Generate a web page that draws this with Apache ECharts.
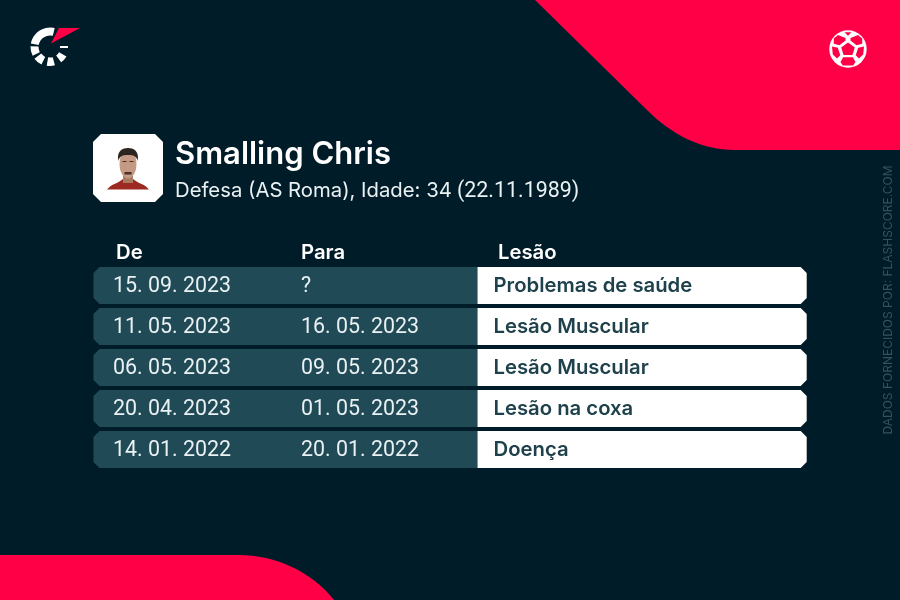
<!DOCTYPE html>
<html>
<head>
<meta charset="utf-8">
<style>html,body{margin:0;padding:0;background:#001c29}#main{width:900px;height:600px}</style>
<script src="https://cdn.jsdelivr.net/npm/echarts@6/dist/echarts.min.js"></script>
</head>
<body>
<div id="main"></div>
<script>
var playerName = 'Smalling Chris';
var playerInfo = 'Defesa (AS Roma), Idade: 34';
var birthDate = '(22.11.1989)';
var columnTitles = ['De', 'Para', 'Lesão'];
var dateFrom = ['15. 09. 2023', '11. 05. 2023', '06. 05. 2023', '20. 04. 2023', '14. 01. 2022'];
var dateTo = ['?', '16. 05. 2023', '09. 05. 2023', '01. 05. 2023', '20. 01. 2022'];
var injuries = ['Problemas de saúde', 'Lesão Muscular', 'Lesão Muscular', 'Lesão na coxa', 'Doença'];
var sourceText = 'DADOS FORNECIDOS POR: FLASHSCORE.COM';

var FONT = 'Inter, "Noto Sans", sans-serif';
var DATE_FONT = '400 21.4px Roboto, Inter, sans-serif'; // digits all the same width, like the original
var RED = '#ff0046';
var BG = '#001c29';
var TEAL = '#204a56';
var WHITE = '#ffffff';

var chart = echarts.init(document.getElementById('main'), null, { renderer: 'canvas' });

// one table row: teal part, white part and its three texts
function renderRow(params, api) {
  var i = api.value(1);
  var cy = api.coord([0, i])[1];
  var left = params.coordSys.x + 0.5;
  var right = left + params.coordSys.width - 0.8;
  var split = 477.5;
  var top = cy - 18.6;
  var bot = cy + 18.4;
  var c = 6;
  return {
    type: 'group',
    children: [
      poly([[left + c, top], [split, top], [split, bot], [left + c, bot], [left, bot - c], [left, top + c]], TEAL),
      poly([[split, top], [right - c, top], [right, top + c], [right, bot - c], [right - c, bot], [split, bot]], WHITE),
      { type: 'text', style: { x: 113, y: cy + 1.5, text: dateFrom[i], fill: '#eaf1f3', font: DATE_FONT, verticalAlign: 'middle' } },
      { type: 'text', style: { x: 301, y: cy + 1.5, text: dateTo[i], fill: '#eaf1f3', font: DATE_FONT, verticalAlign: 'middle' } },
      { type: 'text', style: { x: 493.5, y: cy, text: injuries[i], fill: '#1f414c', font: '600 20.3px ' + FONT, verticalAlign: 'middle' } }
    ]
  };
}

function sector(cx, cy, r0, r, a, b) {
  return {
    type: 'sector',
    shape: { cx: cx, cy: cy, r0: r0, r: r, startAngle: a * Math.PI / 180, endAngle: b * Math.PI / 180 },
    style: { fill: WHITE }
  };
}

function poly(points, fill) {
  return { type: 'polygon', shape: { points: points }, style: { fill: fill } };
}

function svgPath(d, x, y, w, h, fill) {
  return { type: 'path', shape: { pathData: d, layout: 'cover', x: x, y: y, width: w, height: h }, style: { fill: fill } };
}

// corners, logo, ball and the player box
function renderDecor() {
  return {
    type: 'group',
    children: [
      svgPath('M535 0 L647 110 C672 135 702 150 735 150 L900 150 L900 0 Z', 535, 0, 365, 150, RED),
      svgPath('M0 555 L238 555 C276 555 312 572 334 600 L0 600 Z', 0, 555, 334, 45, RED),

      // logo
      sector(50, 47, 11.5, 19.5, 190, 284),
      sector(50, 47, 11.5, 19.5, 153, 182),
      sector(50, 47, 11, 19.5, 116, 143),
      sector(50, 47, 10.5, 19, 75, 100),
      sector(50, 47, 10.5, 19, 30, 54),
      { type: 'rect', shape: { x: 60, y: 46, width: 8, height: 2 }, style: { fill: WHITE } },
      poly([[59, 28], [80, 28], [51, 43.5]], RED),

      // ball icon
      { type: 'circle', shape: { cx: 848, cy: 49, r: 18.7 }, style: { fill: WHITE } },
      poly([[848, 42.5], [854.8, 47.5], [852.4, 55], [843.6, 55], [841.2, 47.5]], RED),
      poly([[838, 35], [845.5, 38], [845.5, 40.5], [839.5, 45.2], [833.8, 43.7], [833.8, 38.5]], RED),
      poly([[858, 35], [850.5, 38], [850.5, 40.5], [856.5, 45.2], [862.2, 43.7], [862.2, 38.5]], RED),
      poly([[832, 46.5], [837.8, 47.8], [840.3, 55.3], [837, 58.5], [832.8, 54.5]], RED),
      poly([[864, 46.5], [858.2, 47.8], [855.7, 55.3], [859, 58.5], [863.2, 54.5]], RED),
      poly([[843.2, 57.3], [852.8, 57.3], [855.5, 62], [853.2, 65.4], [842.8, 65.4], [840.5, 62]], RED),
      poly([[844.5, 32.3], [851.5, 32.3], [848, 35.8]], RED),

      // player photo box
      poly([[101, 134], [155, 134], [163, 142], [163, 194], [155, 202], [101, 202], [93, 194], [93, 142]], WHITE),
      svgPath('M107 189.5 C111 184 119 183 123 179 L133 179 C137 183 145 184 149 189.5 Z', 107, 179, 42, 10.5, '#9c2a22'),
      { type: 'rect', shape: { x: 123, y: 174, width: 10, height: 9 }, style: { fill: '#a97a62' } },
      { type: 'ellipse', shape: { cx: 128, cy: 164, rx: 8.5, ry: 14.5 }, style: { fill: '#c49a84' } },
      svgPath('M119.5 161 C118 152 122 148 128 148 C134 148 138 152 136.5 161 C135.5 156 133 155 128 155 C123 155 120.5 156 119.5 161 Z', 118, 148, 20, 13, '#2b2522'),
      { type: 'rect', shape: { x: 122.5, y: 161, width: 4, height: 1 }, style: { fill: '#4a3028' } },
      { type: 'rect', shape: { x: 129.5, y: 161, width: 4, height: 1 }, style: { fill: '#4a3028' } },
      { type: 'rect', shape: { x: 124.5, y: 172, width: 7, height: 2.5 }, style: { fill: '#4a3028' } }
    ]
  };
}

var headers = columnTitles.map(function (t, i) {
  return {
    type: 'text',
    left: [116, 301, 498][i],
    top: 243,
    style: { text: t, fill: WHITE, font: '600 20.3px ' + FONT }
  };
});

var option = {
  backgroundColor: BG,
  animation: false,
  grid: { left: 93, right: 93, top: 265, height: 205 },
  xAxis: { type: 'value', min: 0, max: 1, show: false },
  yAxis: { type: 'category', inverse: true, data: dateFrom, show: false },
  series: [
    {
      type: 'custom',
      coordinateSystem: 'none',
      renderItem: renderDecor,
      data: [[0]],
      silent: true
    },
    {
      type: 'custom',
      coordinateSystem: 'cartesian2d',
      renderItem: renderRow,
      data: dateFrom.map(function (d, i) { return [0, i]; }),
      silent: true
    }
  ],
  graphic: [
    { type: 'text', left: 175, top: 139, style: { text: playerName, fill: WHITE, font: '600 31px ' + FONT } },
    { type: 'text', left: 175, top: 181, style: { text: playerInfo, fill: '#eaf1f3', font: '400 20.3px ' + FONT } },
    { type: 'text', left: 457, top: 181, style: { text: birthDate, fill: '#eaf1f3', font: DATE_FONT } },
    {
      type: 'text',
      x: 888,
      y: 300,
      rotation: Math.PI / 2,
      style: { text: sourceText, fill: '#34525e', font: '400 12px ' + FONT, align: 'center', verticalAlign: 'middle' }
    }
  ].concat(headers)
};

chart.setOption(option);
</script>
</body>
</html>
